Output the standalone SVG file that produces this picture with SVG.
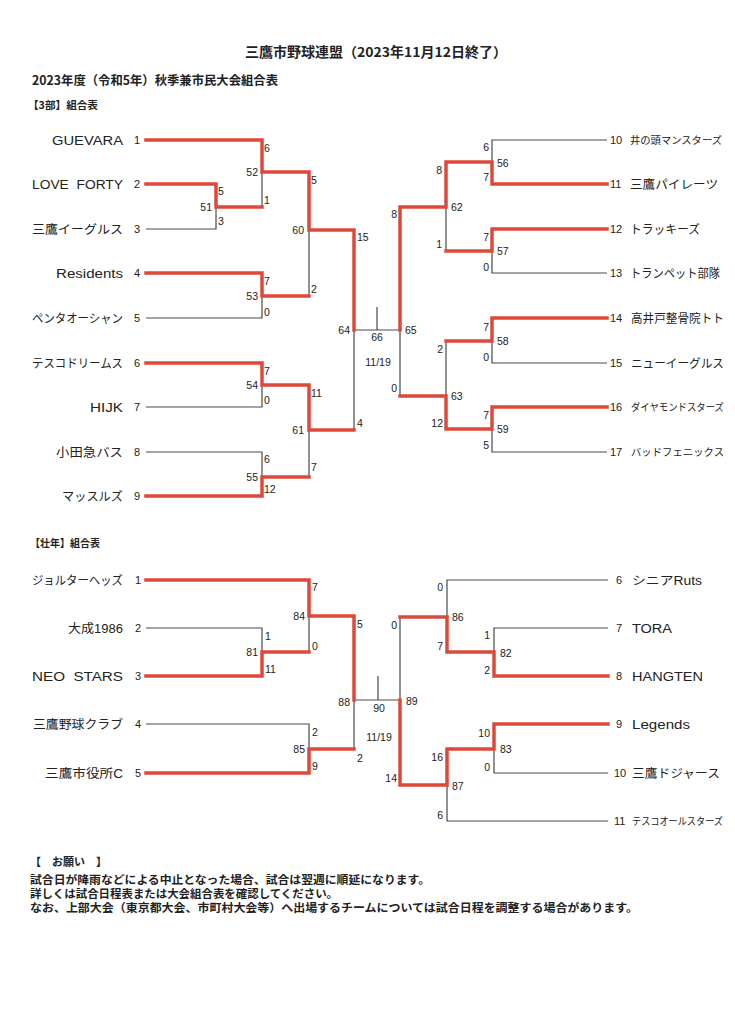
<svg xmlns="http://www.w3.org/2000/svg" width="735" height="1024" viewBox="0 0 735 1024">
<style>
text{font-family:"Liberation Sans","Noto Sans CJK JP",sans-serif;fill:#222}
.h{font-family:"Noto Sans CJK JP","Liberation Sans",sans-serif;font-weight:bold}
.n{font-size:12px;white-space:pre}
.ns{font-size:10px}
.k{font-size:11px}
.s{font-size:10.5px}
.e{text-anchor:end}
.c{text-anchor:middle}
.g{fill:none;stroke:#4a4a4a;stroke-width:1.2}
.r{fill:none;stroke:#de483a;stroke-width:3.5;stroke-linejoin:miter;stroke-linecap:square}
</style>
<rect width="735" height="1024" fill="#fff"/>
<g id="headers">
<text class="h" x="376" y="57" font-size="13.5" text-anchor="middle" textLength="262" lengthAdjust="spacingAndGlyphs">三鷹市野球連盟（2023年11月12日終了）</text>
<text class="h" x="32" y="85" font-size="12.5" textLength="246" lengthAdjust="spacingAndGlyphs">2023年度（令和5年）秋季兼市民大会組合表</text>
<text class="h" x="28" y="109" font-size="10.5" textLength="70" lengthAdjust="spacingAndGlyphs">【3部】組合表</text>
<text class="h" x="30" y="547" font-size="10.5" textLength="70" lengthAdjust="spacingAndGlyphs">【壮年】組合表</text>
</g>
<g id="connectors">
<path class="g" d="M146,229H216V207M262,172V207M309,230V296M146,318H262V296M146,407H262V385M146,452H262V477M309,430V477M354,330V430M354,330H400M377,307V330"/>
<path class="g" d="M607,140H492V162M607,273H492V251M446,207V251M607,363H492V341M607,452H492V429M446,341V396M400,330V396"/>
<path class="g" d="M146,628H262V652M309,616V652M146,724H309V749M354,700V749M354,700H400M378,676V700"/>
<path class="g" d="M608,580H447V617M608,628H494V652M400,617V700M608,773H494V749M608,821H447V785"/>
<path class="r" d="M146,140H262V172H309V230H354V330M146,184H216V207H262M146,273H262V296H309M146,363H262V385H309V430H354M146,496H262V477H309"/>
<path class="r" d="M607,184H492V162H446V207H400V330M607,229H492V251H446M607,318H492V341H446M607,407H492V429H446V396H400"/>
<path class="r" d="M146,580H309V616H354V700M146,676H262V652H309M146,773H309V749H354"/>
<path class="r" d="M608,676H494V652H447V617H400M608,724H494V749H447V785H400V700"/>
</g>
<g id="teams-3bu">
<g id="t1"><text class="n e" x="123" y="145" textLength="71" lengthAdjust="spacingAndGlyphs">GUEVARA</text><text class="k" x="134" y="144">1</text></g>
<g id="t2"><text class="n e" x="123" y="189" textLength="91" lengthAdjust="spacingAndGlyphs">LOVE  FORTY</text><text class="k" x="134" y="188">2</text></g>
<g id="t3"><text class="n e" x="123" y="234" textLength="91" lengthAdjust="spacingAndGlyphs">三鷹イーグルス</text><text class="k" x="134" y="233">3</text></g>
<g id="t4"><text class="n e" x="123" y="278" textLength="67" lengthAdjust="spacingAndGlyphs">Residents</text><text class="k" x="134" y="277">4</text></g>
<g id="t5"><text class="n e" x="123" y="323" textLength="91" lengthAdjust="spacingAndGlyphs">ペンタオーシャン</text><text class="k" x="134" y="322">5</text></g>
<g id="t6"><text class="n e" x="123" y="368" textLength="91" lengthAdjust="spacingAndGlyphs">テスコドリームス</text><text class="k" x="134" y="367">6</text></g>
<g id="t7"><text class="n e" x="123" y="412" textLength="33" lengthAdjust="spacingAndGlyphs">HIJK</text><text class="k" x="134" y="411">7</text></g>
<g id="t8"><text class="n e" x="123" y="457" textLength="67" lengthAdjust="spacingAndGlyphs">小田急バス</text><text class="k" x="134" y="456">8</text></g>
<g id="t9"><text class="n e" x="123" y="501" textLength="61" lengthAdjust="spacingAndGlyphs">マッスルズ</text><text class="k" x="134" y="500">9</text></g>
<g id="t10"><text class="k" x="610" y="144">10</text><text class="ns" x="630" y="144" textLength="92" lengthAdjust="spacingAndGlyphs">井の頭マンスターズ</text></g>
<g id="t11"><text class="k" x="610" y="188">11</text><text class="n" x="630" y="189" font-size="13" textLength="88" lengthAdjust="spacingAndGlyphs">三鷹パイレーツ</text></g>
<g id="t12"><text class="k" x="610" y="233">12</text><text class="n" x="630" y="234" font-size="12.5" textLength="70" lengthAdjust="spacingAndGlyphs">トラッキーズ</text></g>
<g id="t13"><text class="k" x="610" y="277">13</text><text class="n" x="630" y="278" textLength="90" lengthAdjust="spacingAndGlyphs">トランペット部隊</text></g>
<g id="t14"><text class="k" x="610" y="322">14</text><text class="n" x="631" y="323" textLength="93" lengthAdjust="spacingAndGlyphs">高井戸整骨院トト</text></g>
<g id="t15"><text class="k" x="610" y="367">15</text><text class="n" x="631" y="368" textLength="93" lengthAdjust="spacingAndGlyphs">ニューイーグルス</text></g>
<g id="t16"><text class="k" x="610" y="411">16</text><text class="ns" x="631" y="411" textLength="93" lengthAdjust="spacingAndGlyphs">ダイヤモンドスターズ</text></g>
<g id="t17"><text class="k" x="610" y="456">17</text><text class="ns" x="631" y="456" font-size="10.5" textLength="93" lengthAdjust="spacingAndGlyphs">バッドフェニックス</text></g>
</g>
<g id="matches-3bu">
<g id="m51"><text class="s e" x="212" y="211">51</text><text class="s" x="218" y="195">5</text><text class="s" x="218" y="225">3</text></g>
<g id="m52"><text class="s e" x="258" y="176">52</text><text class="s" x="264" y="152">6</text><text class="s" x="264" y="204">1</text></g>
<g id="m53"><text class="s e" x="258" y="300">53</text><text class="s" x="264" y="285">7</text><text class="s" x="264" y="316">0</text></g>
<g id="m54"><text class="s e" x="258" y="389">54</text><text class="s" x="264" y="375">7</text><text class="s" x="264" y="404">0</text></g>
<g id="m55"><text class="s e" x="258" y="481">55</text><text class="s" x="264" y="463">6</text><text class="s" x="264" y="493">12</text></g>
<g id="m60"><text class="s e" x="304" y="234">60</text><text class="s" x="311" y="184">5</text><text class="s" x="311" y="293">2</text></g>
<g id="m61"><text class="s e" x="304" y="434">61</text><text class="s" x="311" y="397">11</text><text class="s" x="311" y="471">7</text></g>
<g id="m64"><text class="s e" x="350" y="334">64</text><text class="s" x="357" y="241">15</text><text class="s" x="357" y="427">4</text></g>
<g id="m66"><text class="s c" x="377" y="341">66</text><text class="s c" x="378" y="366">11/19</text></g>
<g id="m65"><text class="s" x="405" y="334">65</text><text class="s e" x="397" y="218">8</text><text class="s e" x="397" y="392">0</text></g>
<g id="m62"><text class="s" x="451" y="211">62</text><text class="s e" x="442" y="174">8</text><text class="s e" x="442" y="248">1</text></g>
<g id="m63"><text class="s" x="451" y="400">63</text><text class="s e" x="443" y="353">2</text><text class="s e" x="443" y="427">12</text></g>
<g id="m56"><text class="s" x="497" y="167">56</text><text class="s e" x="489" y="151">6</text><text class="s e" x="489" y="181">7</text></g>
<g id="m57"><text class="s" x="497" y="255">57</text><text class="s e" x="489" y="241">7</text><text class="s e" x="489" y="271">0</text></g>
<g id="m58"><text class="s" x="497" y="345">58</text><text class="s e" x="489" y="331">7</text><text class="s e" x="489" y="361">0</text></g>
<g id="m59"><text class="s" x="497" y="433">59</text><text class="s e" x="489" y="419">7</text><text class="s e" x="489" y="449">5</text></g>
</g>
<g id="teams-sonen">
<g id="u1"><text class="n e" x="123" y="585" textLength="91" lengthAdjust="spacingAndGlyphs">ジョルターヘッズ</text><text class="k" x="135" y="584">1</text></g>
<g id="u2"><text class="n e" x="123" y="633" textLength="55" lengthAdjust="spacingAndGlyphs">大成1986</text><text class="k" x="135" y="632">2</text></g>
<g id="u3"><text class="n e" x="123" y="681" textLength="91" lengthAdjust="spacingAndGlyphs">NEO  STARS</text><text class="k" x="135" y="680">3</text></g>
<g id="u4"><text class="n e" x="123" y="729" textLength="90" lengthAdjust="spacingAndGlyphs">三鷹野球クラブ</text><text class="k" x="135" y="728">4</text></g>
<g id="u5"><text class="n e" x="123" y="778" textLength="78" lengthAdjust="spacingAndGlyphs">三鷹市役所C</text><text class="k" x="135" y="777">5</text></g>
<g id="u6"><text class="k" x="616" y="584">6</text><text class="n" x="632" y="585" textLength="70" lengthAdjust="spacingAndGlyphs">シニアRuts</text></g>
<g id="u7"><text class="k" x="616" y="632">7</text><text class="n" x="632" y="633" textLength="40" lengthAdjust="spacingAndGlyphs">TORA</text></g>
<g id="u8"><text class="k" x="616" y="680">8</text><text class="n" x="632" y="681" textLength="71" lengthAdjust="spacingAndGlyphs">HANGTEN</text></g>
<g id="u9"><text class="k" x="616" y="728">9</text><text class="n" x="632" y="729" textLength="58" lengthAdjust="spacingAndGlyphs">Legends</text></g>
<g id="u10"><text class="k" x="614" y="777">10</text><text class="n" x="632" y="778" textLength="88" lengthAdjust="spacingAndGlyphs">三鷹ドジャース</text></g>
<g id="u11"><text class="k" x="614" y="825">11</text><text class="ns" x="632" y="825" font-size="9.5" textLength="91" lengthAdjust="spacingAndGlyphs">テスコオールスターズ</text></g>
</g>
<g id="matches-sonen">
<g id="m81"><text class="s e" x="258" y="656">81</text><text class="s" x="265" y="640">1</text><text class="s" x="265" y="673">11</text></g>
<g id="m84"><text class="s e" x="305" y="620">84</text><text class="s" x="312" y="591">7</text><text class="s" x="312" y="650">0</text></g>
<g id="m85"><text class="s e" x="305" y="753">85</text><text class="s" x="312" y="736">2</text><text class="s" x="312" y="770">9</text></g>
<g id="m88"><text class="s e" x="350" y="706">88</text><text class="s" x="357" y="628">5</text><text class="s" x="357" y="762">2</text></g>
<g id="m90"><text class="s c" x="379" y="712">90</text><text class="s c" x="379" y="741">11/19</text></g>
<g id="m89"><text class="s" x="406" y="705">89</text><text class="s e" x="397" y="629">0</text><text class="s e" x="397" y="782">14</text></g>
<g id="m86"><text class="s" x="452" y="621">86</text><text class="s e" x="443" y="591">0</text><text class="s e" x="443" y="650">7</text></g>
<g id="m82"><text class="s" x="500" y="657">82</text><text class="s e" x="490" y="639">1</text><text class="s e" x="490" y="674">2</text></g>
<g id="m83"><text class="s" x="500" y="753">83</text><text class="s e" x="490" y="737">10</text><text class="s e" x="490" y="771">0</text></g>
<g id="m87"><text class="s" x="452" y="790">87</text><text class="s e" x="443" y="761">16</text><text class="s e" x="443" y="819">6</text></g>
</g>
<g id="notes">
<text class="h" x="30" y="866" font-size="11" style="white-space:pre">【　お願い　】</text>
<text class="h" x="30" y="884" font-size="11.5" textLength="400" lengthAdjust="spacingAndGlyphs">試合日が降雨などによる中止となった場合、試合は翌週に順延になります。</text>
<text class="h" x="30" y="898" font-size="11.5" textLength="308" lengthAdjust="spacingAndGlyphs">詳しくは試合日程表または大会組合表を確認してください。</text>
<text class="h" x="30" y="912" font-size="11.5" textLength="608" lengthAdjust="spacingAndGlyphs">なお、上部大会（東京都大会、市町村大会等）へ出場するチームについては試合日程を調整する場合があります。</text>
</g>
</svg>
